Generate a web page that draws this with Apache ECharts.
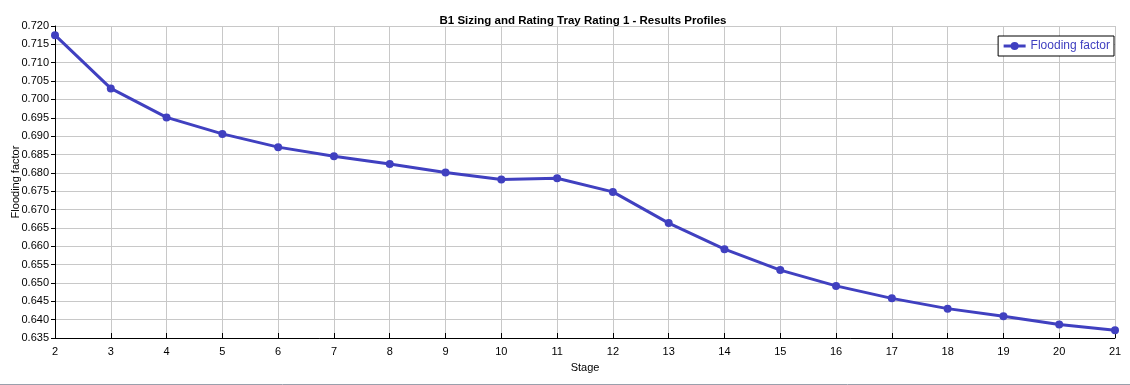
<!DOCTYPE html>
<html>
<head>
<meta charset="utf-8">
<script src="https://cdn.jsdelivr.net/npm/echarts@6/dist/echarts.min.js"></script>
<style>
html,body{margin:0;padding:0;background:#fff;}
#c{width:1130px;height:385px;}
</style>
</head>
<body>
<div id="c"></div>
<script>
var stages = [2,3,4,5,6,7,8,9,10,11,12,13,14,15,16,17,18,19,20,21];
var floodingFactor = [0.7175,0.7030,0.6951,0.6906,0.6870,0.6845,0.6824,0.6801,0.6782,0.6785,0.6748,0.6663,0.6592,0.6535,0.6492,0.6458,0.6430,0.6409,0.6387,0.6371];
var yTicks = {min:0.635, max:0.720, step:0.005};
var title = 'B1 Sizing and Rating Tray Rating 1 - Results Profiles';
var seriesName = 'Flooding factor';
var lineColor = '#4040c0';
var fontFam = 'Liberation Sans, Noto Sans, sans-serif';

var chart = echarts.init(document.getElementById('c'), null, {renderer:'canvas'});
chart.setOption({
  animation:false,
  backgroundColor:'#fff',
  title:{text:title,left:578,textAlign:'center',top:10,
    textStyle:{fontFamily:fontFam,fontSize:11.5,fontWeight:'bold',color:'#000'}},
  legend:{right:16,top:36,orient:'horizontal',
    borderColor:'#000',borderWidth:1,padding:[4,4,4,4],backgroundColor:'#fff',
    itemWidth:22,itemHeight:10,itemGap:4,
    lineStyle:{width:3},
    textStyle:{fontFamily:fontFam,fontSize:12,color:lineColor},
    data:[{name:seriesName}]},
  grid:{left:55,right:15,top:26,bottom:47,containLabel:false,outerBoundsMode:'none'},
  xAxis:{type:'value',min:2,max:21,interval:1,
    name:'Stage',nameLocation:'middle',nameGap:24,nameMoveOverlap:false,
    nameTextStyle:{fontFamily:fontFam,fontSize:11,color:'#000'},
    axisLine:{show:true,lineStyle:{color:'#000',width:1}},
    axisTick:{show:true,inside:true,length:5,lineStyle:{color:'#000'}},
    axisLabel:{fontFamily:fontFam,fontSize:11,color:'#000',margin:8},
    splitLine:{show:true,lineStyle:{color:'#c8c8c8',width:1}}},
  yAxis:{type:'value',min:yTicks.min,max:yTicks.max,interval:yTicks.step,
    name:'Flooding factor',nameLocation:'middle',nameGap:34,nameRotate:90,nameMoveOverlap:false,
    nameTextStyle:{fontFamily:fontFam,fontSize:11,color:'#000'},
    axisLine:{show:true,lineStyle:{color:'#000',width:1}},
    axisTick:{show:true,inside:false,length:4,lineStyle:{color:'#000'}},
    axisLabel:{fontFamily:fontFam,fontSize:11,color:'#000',margin:6,
      formatter:function(v){return v.toFixed(3);}},
    splitLine:{show:true,lineStyle:{color:'#c8c8c8',width:1}}},
  graphic:[{type:'line',shape:{x1:0,y1:384.5,x2:1130,y2:384.5},style:{stroke:'#9aa0ac',lineWidth:1},silent:true}],
  series:[{name:seriesName,type:'line',
    data:stages.map(function(s,i){return [s,floodingFactor[i]];}),
    symbol:'circle',symbolSize:8,showSymbol:true,
    lineStyle:{color:lineColor,width:3},
    itemStyle:{color:lineColor},
    clip:false}]
});
</script>
</body>
</html>
